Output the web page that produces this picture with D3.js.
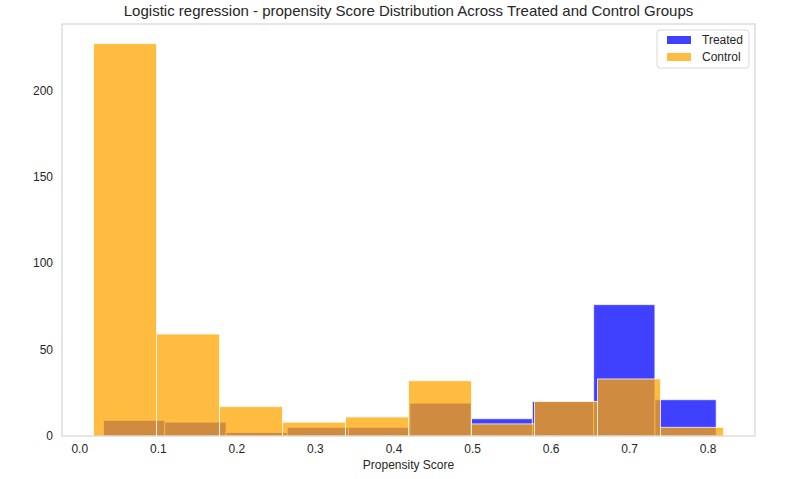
<!DOCTYPE html>
<html>
<head>
<meta charset="utf-8">
<script src="https://cdn.jsdelivr.net/npm/d3@7"></script>
<style>
    body { margin: 0; background: #fff; }
    svg { display: block; font-family: "Liberation Sans", Arial, sans-serif; }
</style>
</head>
<body>
<script>
    "use strict";

    // histogram bins: edges (propensity score) and counts per group
    var treatedEdges = [0.0308, 0.1088, 0.1868, 0.2648, 0.3428, 0.4208, 0.4988, 0.5768, 0.6548, 0.7328, 0.8108];
    var treatedCounts = [9, 8, 2, 5, 5, 19, 10, 20, 76, 21];
    var controlEdges = [0.0181, 0.0983, 0.1785, 0.2587, 0.3389, 0.4191, 0.4993, 0.5795, 0.6597, 0.7399, 0.8201];
    var controlCounts = [227, 59, 17, 8, 11, 32, 7, 20, 33, 5];
    var xTicks = [0, 0.1, 0.2, 0.3, 0.4, 0.5, 0.6, 0.7, 0.8];
    var yTicks = [0, 50, 100, 150, 200];
    var seriesNames = ["Treated", "Control"];

    var svgWidth = 793,
        svgHeight = 479,
        plotLeft = 62,
        plotRight = 755,
        plotTop = 24,
        plotBottom = 436;

    var xScale = d3.scaleLinear()
                   .domain([-0.0220, 0.8602])
                   .range([plotLeft, plotRight]);

    var yScale = d3.scaleLinear()
                   .domain([0, d3.max(controlCounts.concat(treatedCounts)) * 1.05])
                   .range([plotBottom, plotTop]);

    var colors = { Treated: "#0000ff", Control: "#ffa500" };

    var svg = d3.select("body").append("svg")
        .attr("width", svgWidth)
        .attr("height", svgHeight);

    function toBins(edges, counts) {
        return counts.map(function(c, i) {
            return { x0: edges[i], x1: edges[i + 1], n: c };
        });
    }

    function drawHist(bins, color) {
        svg.append("g").selectAll("rect")
            .data(bins)
            .enter().append("rect")
                .attr("x", function(d) { return xScale(d.x0); })
                .attr("width", function(d) { return xScale(d.x1) - xScale(d.x0); })
                .attr("y", function(d) { return yScale(d.n); })
                .attr("height", function(d) { return yScale(0) - yScale(d.n); })
                .style("fill", color)
                .style("fill-opacity", 0.75)
                .style("stroke", "#fff")
                .style("stroke-opacity", 0.75)
                .style("stroke-width", 1);
    }

    drawHist(toBins(treatedEdges, treatedCounts), colors.Treated);
    drawHist(toBins(controlEdges, controlCounts), colors.Control);

    // frame
    svg.append("rect")
        .attr("x", plotLeft)
        .attr("y", plotTop)
        .attr("width", plotRight - plotLeft)
        .attr("height", plotBottom - plotTop)
        .style("fill", "none")
        .style("stroke", "#cccccc")
        .style("stroke-width", 1);

    var xAxis = svg.append("g")
        .attr("transform", "translate(0," + plotBottom + ")")
        .call(d3.axisBottom(xScale).tickValues(xTicks).tickFormat(d3.format(".1f")).tickSize(0).tickPadding(8));
    xAxis.select(".domain").remove();
    xAxis.selectAll("text").style("font-size", "12px").style("fill", "#262626")
        .style("font-family", "Liberation Sans, Arial, sans-serif");

    var yAxis = svg.append("g")
        .attr("transform", "translate(" + plotLeft + ",0)")
        .call(d3.axisLeft(yScale).tickValues(yTicks).tickSize(0).tickPadding(9));
    yAxis.select(".domain").remove();
    yAxis.selectAll("text").style("font-size", "12px").style("fill", "#262626")
        .style("font-family", "Liberation Sans, Arial, sans-serif");

    svg.append("text")
        .attr("x", (plotLeft + plotRight) / 2)
        .attr("y", 469)
        .attr("text-anchor", "middle")
        .style("font-size", "12px")
        .style("fill", "#262626")
        .text("Propensity Score");

    svg.append("text")
        .attr("x", (plotLeft + plotRight) / 2)
        .attr("y", 16)
        .attr("text-anchor", "middle")
        .style("font-size", "15px")
        .style("fill", "#262626")
        .text("Logistic regression - propensity Score Distribution Across Treated and Control Groups");

    // legend
    var legend = svg.append("g").attr("transform", "translate(657,30)");
    legend.append("rect")
        .attr("width", 92)
        .attr("height", 38)
        .attr("rx", 3)
        .style("fill", "#fff")
        .style("fill-opacity", 0.8)
        .style("stroke", "#d9d9d9");
    seriesNames.forEach(function(name, i) {
        legend.append("rect")
            .attr("x", 10)
            .attr("y", 6 + i * 17)
            .attr("width", 24)
            .attr("height", 8)
            .style("fill", colors[name])
            .style("fill-opacity", 0.75);
        legend.append("text")
            .attr("x", 45)
            .attr("y", 14 + i * 17)
            .style("font-size", "12px")
            .style("fill", "#262626")
            .text(name);
    });
</script>
</body>
</html>
